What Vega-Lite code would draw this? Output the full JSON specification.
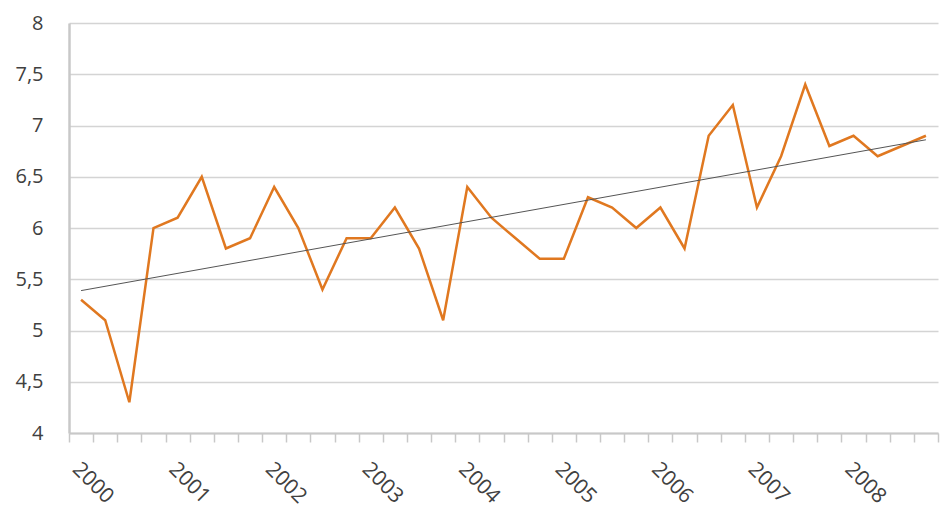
{
  "$schema": "https://vega.github.io/schema/vega-lite/v6.json",
  "autosize": {"type": "none"},
  "width": 869,
  "height": 410,
  "padding": {"left": 69, "top": 23, "right": 2, "bottom": 76},
  "background": "white",
  "config": {
    "view": {"stroke": null},
    "font": "Open Sans"
  },
  "data": {
    "values": [
      {"t": 0, "quarter": "2000 Q1", "value": 5.3},
      {"t": 1, "quarter": "2000 Q2", "value": 5.1},
      {"t": 2, "quarter": "2000 Q3", "value": 4.3},
      {"t": 3, "quarter": "2000 Q4", "value": 6.0},
      {"t": 4, "quarter": "2001 Q1", "value": 6.1},
      {"t": 5, "quarter": "2001 Q2", "value": 6.5},
      {"t": 6, "quarter": "2001 Q3", "value": 5.8},
      {"t": 7, "quarter": "2001 Q4", "value": 5.9},
      {"t": 8, "quarter": "2002 Q1", "value": 6.4},
      {"t": 9, "quarter": "2002 Q2", "value": 6.0},
      {"t": 10, "quarter": "2002 Q3", "value": 5.4},
      {"t": 11, "quarter": "2002 Q4", "value": 5.9},
      {"t": 12, "quarter": "2003 Q1", "value": 5.9},
      {"t": 13, "quarter": "2003 Q2", "value": 6.2},
      {"t": 14, "quarter": "2003 Q3", "value": 5.8},
      {"t": 15, "quarter": "2003 Q4", "value": 5.1},
      {"t": 16, "quarter": "2004 Q1", "value": 6.4},
      {"t": 17, "quarter": "2004 Q2", "value": 6.1},
      {"t": 18, "quarter": "2004 Q3", "value": 5.9},
      {"t": 19, "quarter": "2004 Q4", "value": 5.7},
      {"t": 20, "quarter": "2005 Q1", "value": 5.7},
      {"t": 21, "quarter": "2005 Q2", "value": 6.3},
      {"t": 22, "quarter": "2005 Q3", "value": 6.2},
      {"t": 23, "quarter": "2005 Q4", "value": 6.0},
      {"t": 24, "quarter": "2006 Q1", "value": 6.2},
      {"t": 25, "quarter": "2006 Q2", "value": 5.8},
      {"t": 26, "quarter": "2006 Q3", "value": 6.9},
      {"t": 27, "quarter": "2006 Q4", "value": 7.2},
      {"t": 28, "quarter": "2007 Q1", "value": 6.2},
      {"t": 29, "quarter": "2007 Q2", "value": 6.7},
      {"t": 30, "quarter": "2007 Q3", "value": 7.4},
      {"t": 31, "quarter": "2007 Q4", "value": 6.8},
      {"t": 32, "quarter": "2008 Q1", "value": 6.9},
      {"t": 33, "quarter": "2008 Q2", "value": 6.7},
      {"t": 34, "quarter": "2008 Q3", "value": 6.8},
      {"t": 35, "quarter": "2008 Q4", "value": 6.9}
    ]
  },
  "encoding": {
    "x": {
      "field": "t",
      "type": "quantitative",
      "scale": {"domain": [-0.5, 35.5], "nice": false, "zero": false},
      "axis": {
        "title": null,
        "values": [-0.5,0.5,1.5,2.5,3.5,4.5,5.5,6.5,7.5,8.5,9.5,10.5,11.5,12.5,13.5,14.5,15.5,16.5,17.5,18.5,19.5,20.5,21.5,22.5,23.5,24.5,25.5,26.5,27.5,28.5,29.5,30.5,31.5,32.5,33.5,34.5,35.5],
        "labelExpr": "((datum.value + 0.5) % 4 == 0 && datum.value < 35) ? toString(2000 + (datum.value + 0.5) / 4) : ''",
        "labelAngle": 45,
        "labelAlign": "left",
        "labelBaseline": "top",
        "labelOffset": 14,
        "labelPadding": 16,
        "labelFontSize": 21,
        "labelColor": "#404040",
        "labelOverlap": false,
        "labelBound": false,
        "labelFlush": false,
        "grid": false,
        "domainColor": "#c8c8c8",
        "domainWidth": 2,
        "tickColor": "#c8c8c8",
        "tickWidth": 1.5,
        "tickSize": 9
      }
    },
    "y": {
      "field": "value",
      "type": "quantitative",
      "scale": {"domain": [4, 8], "nice": false, "zero": false},
      "axis": {
        "title": null,
        "values": [4, 4.5, 5, 5.5, 6, 6.5, 7, 7.5, 8],
        "labelExpr": "replace(toString(datum.value), '.', ',')",
        "labelFontSize": 20,
        "labelColor": "#404040",
        "labelPadding": 26,
        "ticks": false,
        "gridColor": "#d4d4d4",
        "gridWidth": 1.5,
        "domainColor": "#c8c8c8",
        "domainWidth": 2.5
      }
    }
  },
  "layer": [
    {
      "mark": {"type": "line", "color": "#E07820", "strokeWidth": 2.5, "strokeJoin": "miter"}
    },
    {
      "transform": [{"regression": "value", "on": "t"}],
      "mark": {"type": "line", "color": "#555555", "strokeWidth": 1}
    }
  ]
}
